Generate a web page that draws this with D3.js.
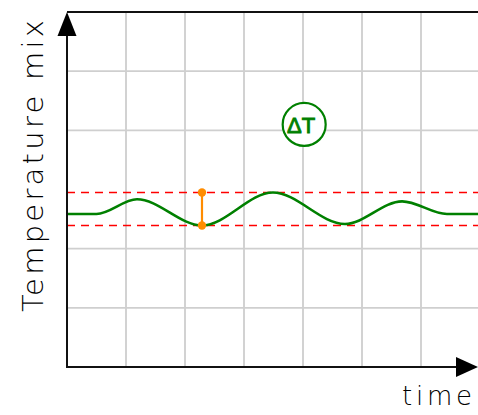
<!DOCTYPE html>
<html>
<head>
<meta charset="utf-8">
<script src="https://cdn.jsdelivr.net/npm/d3@7"></script>
<style>
  html, body { margin: 0; padding: 0; background: #fff; }
  svg { display: block; }
</style>
</head>
<body>
<div id="chart"></div>
<script>
// ---- data ----
const xTickValues = [1, 2, 3, 4, 5, 6];          // vertical grid lines (time)
const yTickValues = [1, 2, 4, 5];                // horizontal grid lines
const curveTime  = [0, 0.5, 1.186, 2.288, 3.49, 4.71, 5.68, 6.44, 7];
const curveTemp  = [2.586, 2.586, 2.834, 2.391, 2.949, 2.417, 2.80, 2.586, 2.586];
const bandLimits = [2.949, 2.391];               // upper / lower dashed limits
const deltaTime  = [2.288];                      // where ΔT is marked
const labelPos   = [4.02, 4.1];                  // ΔT badge (time, temp)
const xLabel = "time";
const yLabel = "Temperature mix";
const badgeText = "ΔT";

// ---- layout ----
const W = 478, H = 415;
const mLeft = 67, mTop = 12, mBottom = 367, rightEdge = 478;

const x = d3.scaleLinear().domain([0, 7]).range([mLeft, mLeft + 7 * 59]);
const y = d3.scaleLinear().domain([0, 6]).range([mBottom, mTop]);

const svg = d3.select("#chart").append("svg")
  .attr("width", W).attr("height", H);

// grid
svg.append("g").selectAll("line").data(xTickValues).join("line")
  .attr("x1", d => x(d)).attr("x2", d => x(d))
  .attr("y1", mTop).attr("y2", mBottom)
  .attr("stroke", "#b4b4b4").attr("stroke-width", 1.2);

svg.append("g").selectAll("line").data(yTickValues).join("line")
  .attr("x1", mLeft).attr("x2", rightEdge)
  .attr("y1", d => y(d)).attr("y2", d => y(d))
  .attr("stroke", "#cfcfcf").attr("stroke-width", 1.6);

// dashed limits
svg.append("g").selectAll("line").data(bandLimits).join("line")
  .attr("x1", mLeft).attr("x2", rightEdge)
  .attr("y1", d => y(d)).attr("y2", d => y(d))
  .attr("stroke", "#ff0000").attr("stroke-width", 1.6)
  .attr("stroke-dasharray", "8,6");

// curve
const pts = curveTime.map((t, i) => [t, curveTemp[i]]);
svg.append("path")
  .datum(pts)
  .attr("fill", "none")
  .attr("stroke", "#008000")
  .attr("stroke-width", 2.6)
  .attr("d", d3.line().x(d => x(d[0])).y(d => y(d[1])).curve(d3.curveMonotoneX));

// ΔT marker
const dg = svg.append("g");
deltaTime.forEach(t => {
  dg.append("line")
    .attr("x1", x(t)).attr("x2", x(t))
    .attr("y1", y(bandLimits[0])).attr("y2", y(bandLimits[1]))
    .attr("stroke", "#ff8c00").attr("stroke-width", 2.2);
  bandLimits.forEach(v => {
    dg.append("circle").attr("cx", x(t)).attr("cy", y(v)).attr("r", 4.2)
      .attr("fill", "#ff8c00");
  });
});

// axes frame
svg.append("line").attr("x1", mLeft).attr("x2", rightEdge)
  .attr("y1", mTop).attr("y2", mTop)
  .attr("stroke", "#111").attr("stroke-width", 2);
svg.append("line").attr("x1", mLeft).attr("x2", mLeft)
  .attr("y1", mTop + 10).attr("y2", mBottom + 1)
  .attr("stroke", "#111").attr("stroke-width", 2);
svg.append("line").attr("x1", mLeft - 1).attr("x2", rightEdge - 10)
  .attr("y1", mBottom).attr("y2", mBottom)
  .attr("stroke", "#111").attr("stroke-width", 2);

// arrowheads
svg.append("path")
  .attr("d", `M${mLeft},${mTop} L${mLeft - 9.5},${mTop + 24} L${mLeft + 9.5},${mTop + 24} Z`)
  .attr("fill", "#000");
svg.append("path")
  .attr("d", `M${rightEdge},${mBottom} L${rightEdge - 22},${mBottom - 10} L${rightEdge - 22},${mBottom + 10} Z`)
  .attr("fill", "#000");

// badge
svg.append("circle")
  .attr("cx", x(labelPos[0])).attr("cy", y(labelPos[1])).attr("r", 21.5)
  .attr("fill", "#fff").attr("stroke", "#008000").attr("stroke-width", 2.2);
svg.append("text")
  .attr("x", x(labelPos[0]) - 3).attr("y", y(labelPos[1]) + 8.5)
  .attr("text-anchor", "middle")
  .attr("font-family", "Liberation Sans, Arial, sans-serif")
  .attr("font-weight", "normal")
  .attr("font-size", 22)
  .attr("fill", "#008000")
  .attr("stroke", "#008000").attr("stroke-width", 0.9)
  .text(badgeText);

// axis labels
svg.append("text")
  .attr("x", 402).attr("y", 405)
  .attr("font-family", "DejaVu Sans, sans-serif")
  .attr("font-weight", 300)
  .attr("font-size", 26)
  .attr("textLength", 70).attr("lengthAdjust", "spacing")
  .attr("fill", "#000")
  .text(xLabel);

svg.append("text")
  .attr("transform", "translate(43,312) rotate(-90)")
  .attr("font-family", "DejaVu Sans, sans-serif")
  .attr("font-weight", 300)
  .attr("font-size", 29)
  .attr("textLength", 292).attr("lengthAdjust", "spacing")
  .attr("fill", "#000")
  .text(yLabel);
</script>
</body>
</html>
